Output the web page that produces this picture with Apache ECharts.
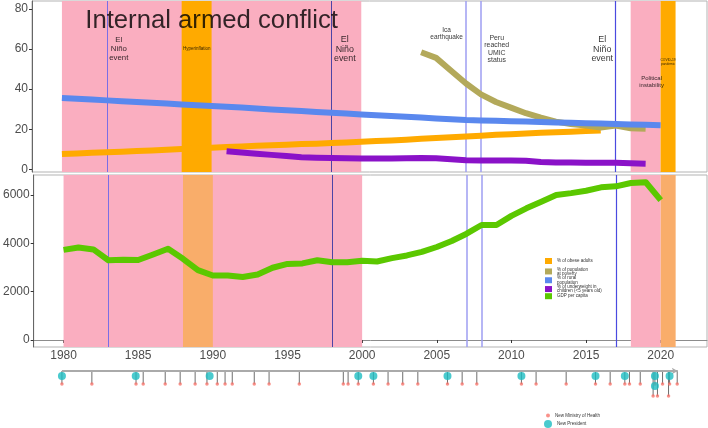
<!DOCTYPE html>
<html><head><meta charset="utf-8">
<script src="https://cdn.jsdelivr.net/npm/echarts@6/dist/echarts.min.js"></script>
<style>html,body{margin:0;padding:0;background:#fff}#c{width:708px;height:428px}</style>
</head><body><div id="c"></div><script>
// ---------- data ----------
const years = [1980,1981,1982,1983,1984,1985,1986,1987,1988,1989,1990,1991,1992,1993,1994,1995,1996,1997,1998,1999,2000,2001,2002,2003,2004,2005,2006,2007,2008,2009,2010,2011,2012,2013,2014,2015,2016,2017,2018,2019,2020];
const xTicks = [1980,1985,1990,1995,2000,2005,2010,2015,2020];
const topTicks = [0,20,40,60,80];
const bottomTicks = [0,2000,4000,6000];

const seriesNames = ['% of obese adults','% of population\nat poverty','% of rural\npopulation','% of underweight in\nchildren (<5 years old)','GDP per capita'];

const obeseYears = years.slice(0, 37); // 1980-2016
const obese = [7.6,7.9,8.2,8.5,8.8,9.1,9.4,9.8,10.1,10.4,10.8,11.1,11.4,11.7,12.0,12.3,12.6,12.8,13.1,13.4,13.7,14.1,14.4,14.8,15.2,15.6,16.0,16.4,16.8,17.2,17.5,17.9,18.2,18.5,18.8,19.1,19.4];

const povertyYears = years.slice(24, 40); // 2004-2019
const poverty = [58.4,55.6,49.2,42.8,37.4,33.6,30.8,28.0,25.8,23.8,22.6,21.8,20.8,21.8,20.5,20.2];

const ruralYears = years; // 1980-2020
const rural = [35.6,35.2,34.8,34.4,34.0,33.6,33.2,32.8,32.4,32.0,31.6,31.2,30.8,30.3,29.9,29.5,29.1,28.6,28.2,27.8,27.4,27.0,26.6,26.2,25.8,25.4,25.0,24.6,24.4,24.2,24.0,23.8,23.6,23.4,23.2,23.0,22.8,22.6,22.4,22.2,22.0];

const underweightYears = years.slice(11, 40); // 1991-2019
const underweight = [9.0,8.4,7.8,7.2,6.6,6.0,5.8,5.6,5.5,5.4,5.4,5.4,5.5,5.6,5.5,5.0,4.5,4.4,4.4,4.4,4.3,3.6,3.4,3.4,3.3,3.3,3.3,3.0,2.8];

const gdpYears = years; // 1980-2020
const gdp = [3730,3830,3750,3300,3320,3310,3540,3780,3360,2890,2670,2670,2610,2710,2990,3150,3170,3300,3220,3220,3280,3250,3390,3500,3650,3850,4100,4400,4760,4760,5140,5450,5720,6000,6080,6180,6320,6360,6500,6530,5790];

const pinkPeriods = [[1980,2000],[2018,2020]];
const orangePeriods = [[1988,1990],[2020,2021]];
const eventYears = [1983,1998,2007,2008,2017];

const annotationTexts = ['Internal armed conflict','El\nNiño\nevent','El\nNiño\nevent','El\nNiño\nevent','Ica\nearthquake','Peru\nreached\nUMIC\nstatus','Hyperinflation','COVID-19\npandemic','Political\ninstability'];
const annotationX = [1990.0,1983.8,1998.9,2016.1,2005.7,2009.05,1989.0,2020.5,2019.4];
const annotationY = [74.1,60,60,60,67.6,60,60,53.7,43.6];

const ministryDates = [1980.0,1982.0,1984.95,1985.43,1986.9,1987.9,1988.9,1989.69,1990.38,1990.9,1991.38,1992.85,1993.84,1995.86,1998.8,1999.12,1999.8,2000.81,2001.79,2002.77,2003.78,2005.76,2006.74,2007.72,2010.7,2011.68,2013.69,2015.65,2016.63,2017.61,2017.92,2018.64,2019.62,2020.13,2020.6,2021.11,2019.5,2019.79,2020.53];
const ministryRow = [1,1,1,1,1,1,1,1,1,1,1,1,1,1,1,1,1,1,1,1,1,1,1,1,1,1,1,1,1,1,1,1,1,1,1,1,2,2,2];
const presidentDates = [1980.0,1984.93,1989.87,1999.8,2000.81,2005.76,2010.7,2015.65,2017.61,2019.62,2020.6,2019.62];
const presidentRow = [1,1,1,1,1,1,1,1,1,1,1,2];
const timelineSpan = [1980, 2021.15];

// ---------- styles ----------
const COL = {obese:'#FFAA00', poverty:'#B3A95A', rural:'#5A88EE', under:'#8A12C8', gdp:'#5BC800'};
const PINK = '#FAAEC0', ORANGE_TOP = '#FFAA00', ORANGE_BOT = '#F9AD6A';
const eventLineStyles = [
  {color:'#7A6EE6', width:1}, {color:'#4D44A6', width:1}, {color:'#9E9EF2', width:1.5},
  {color:'#9E9EF2', width:1.5}, {color:'#4A4AE0', width:1.2}
];
const annStyle = [
  {fontSize:25.7, lineHeight:28},
  {fontSize:7.8, lineHeight:9},
  {fontSize:8.9, lineHeight:9.3},
  {fontSize:8.9, lineHeight:9.5},
  {fontSize:6.5, lineHeight:6.8},
  {fontSize:6.9, lineHeight:7.4},
  {fontSize:4.5, lineHeight:5},
  {fontSize:3.3, lineHeight:4},
  {fontSize:6, lineHeight:6.3}
];
const XMIN = 1978.0, XMAX = 2023.1;
const FONT = '"Liberation Sans", Arial, sans-serif';

function bands(orangeColor){
  return {
    silent:true, z:1,
    data: pinkPeriods.map(p => [{xAxis:p[0], itemStyle:{color:PINK}},{xAxis:p[1]}])
      .concat(orangePeriods.map(p => [{xAxis:p[0], itemStyle:{color:orangeColor}},{xAxis:p[1]}]))
  };
}
function vlines(){
  return {
    silent:true, z:1.5, symbol:['none','none'], label:{show:false},
    data: eventYears.map((y,i) => ({xAxis:y, lineStyle:{type:'solid', color:eventLineStyles[i].color, width:eventLineStyles[i].width}}))
  };
}
function lineSeries(name, xs, ys, color, xi, yi, extra){
  return Object.assign({
    type:'line', name, xAxisIndex:xi, yAxisIndex:yi,
    data: xs.map((x,i)=>[x, ys[i]]),
    symbol:'none', showSymbol:false, z:2,
    lineStyle:{width:6, color, join:'round'},
    itemStyle:{color}
  }, extra || {});
}
const rowLevel = {1:13, 2:25}; // timeline rows below the axis line
const presLevel = {1:5, 2:15};

const chart = echarts.init(document.getElementById('c'), null, {renderer:'canvas'});
const valueFmt = v => String(v);

const seriesLegends = seriesNames.map((n,i)=>({
  data:[n], orient:'vertical', left:545, top:258 + i*8.8, padding:0, itemWidth:7, itemHeight:6,
  icon:'rect', selectedMode:false, textStyle:{fontSize:4.5, lineHeight:4.3, color:'#333'}
}));

const option = {
  animation:false,
  backgroundColor:'#fff',
  textStyle:{fontFamily:FONT},
  grid:[
    {left:32, right:1, top:1, height:171, show:true, borderColor:'#B3B3B3', borderWidth:1},
    {left:32, right:1, top:175, height:172, show:true, borderColor:'#B3B3B3', borderWidth:1},
    {left:32, right:1, top:366, height:36, show:false}
  ],
  xAxis:[
    {gridIndex:0, type:'value', min:XMIN, max:XMAX, axisLine:{show:false}, axisTick:{show:false}, axisLabel:{show:false}, splitLine:{show:false}},
    {gridIndex:1, type:'value', min:XMIN, max:XMAX, splitLine:{show:false},
      axisLine:{show:true, lineStyle:{color:'#8C8C8C', width:1}},
      axisTick:{show:true, customValues:xTicks, length:3, lineStyle:{color:'#333'}},
      axisLabel:{customValues:xTicks, formatter:valueFmt, fontSize:12, color:'#4D4D4D', margin:3}},
    {gridIndex:2, type:'value', min:XMIN, max:XMAX, show:false}
  ],
  yAxis:[
    {gridIndex:0, type:'value', min:-1.35, max:84, splitLine:{show:false},
      axisLine:{show:true, lineStyle:{color:'#666', width:1}},
      axisTick:{show:true, customValues:topTicks, length:3, lineStyle:{color:'#333'}},
      axisLabel:{customValues:topTicks, formatter:valueFmt, fontSize:12, color:'#4D4D4D', margin:4}},
    {gridIndex:1, type:'value', min:-290, max:6830, splitLine:{show:false},
      axisLine:{show:true, lineStyle:{color:'#666', width:1}},
      axisTick:{show:true, customValues:bottomTicks, length:3, lineStyle:{color:'#333'}},
      axisLabel:{customValues:bottomTicks, formatter:valueFmt, fontSize:12, color:'#4D4D4D', margin:4}},
    {gridIndex:2, type:'value', min:-5, max:31, inverse:true, show:false}
  ],
  legend: seriesLegends.concat([
    {data:['New Ministry of Health'], orient:'vertical', left:546, top:413, padding:0, itemWidth:4, itemHeight:4,
      icon:'circle', selectedMode:false, textStyle:{fontSize:4.5, color:'#333'}},
    {data:['New President'], orient:'vertical', left:544, top:420, padding:0, itemWidth:8, itemHeight:8,
      icon:'circle', selectedMode:false, textStyle:{fontSize:4.5, color:'#333'}}
  ]),
  series:[
    lineSeries(seriesNames[0], obeseYears, obese, COL.obese, 0, 0, {markArea:bands(ORANGE_TOP), markLine:vlines()}),
    lineSeries(seriesNames[1], povertyYears, poverty, COL.poverty, 0, 0),
    lineSeries(seriesNames[2], ruralYears, rural, COL.rural, 0, 0),
    lineSeries(seriesNames[3], underweightYears, underweight, COL.under, 0, 0),
    lineSeries(seriesNames[4], gdpYears, gdp, COL.gdp, 1, 1, {markArea:bands(ORANGE_BOT), markLine:vlines()}),
    {
      type:'scatter', name:'annotations', xAxisIndex:0, yAxisIndex:0, z:6, silent:true,
      symbolSize:1, itemStyle:{color:'rgba(0,0,0,0)'},
      data: annotationTexts.map((t,i)=>({
        value:[annotationX[i], annotationY[i]],
        label:{show:true, position:'inside', formatter:t, color:'#000', fontFamily:FONT,
          fontSize:annStyle[i].fontSize, lineHeight:annStyle[i].lineHeight, align:'center', verticalAlign:'middle'}
      }))
    },
    {
      type:'custom', name:'stems', xAxisIndex:2, yAxisIndex:2, z:2, silent:true,
      data: ministryDates.map((d,i)=>[d, rowLevel[ministryRow[i]]]),
      renderItem:(params, api)=>{
        const a = api.coord([api.value(0), 0]);
        const b = api.coord([api.value(0), api.value(1)]);
        return {type:'line', shape:{x1:a[0], y1:a[1], x2:b[0], y2:b[1]}, style:{stroke:'#6E6E6E', lineWidth:1}};
      },
      markLine:{silent:true, symbol:['none','arrow'], symbolSize:[5,6], label:{show:false},
        lineStyle:{color:'#AAAAAA', width:2, type:'solid'},
        data:[[{coord:[timelineSpan[0],0]},{coord:[timelineSpan[1],0]}]]}
    },
    {
      type:'scatter', name:'New Ministry of Health', xAxisIndex:2, yAxisIndex:2, z:4, silent:true,
      symbol:'circle', symbolSize:3.5, itemStyle:{color:'#F8766D'},
      data: ministryDates.map((d,i)=>[d, rowLevel[ministryRow[i]]])
    },
    {
      type:'scatter', name:'New President', xAxisIndex:2, yAxisIndex:2, z:5, silent:true,
      symbol:'circle', symbolSize:8, itemStyle:{color:'#1DBDC2'},
      data: presidentDates.map((d,i)=>[d, presLevel[presidentRow[i]]])
    }
  ]
};
chart.setOption(option);
</script></body></html>
